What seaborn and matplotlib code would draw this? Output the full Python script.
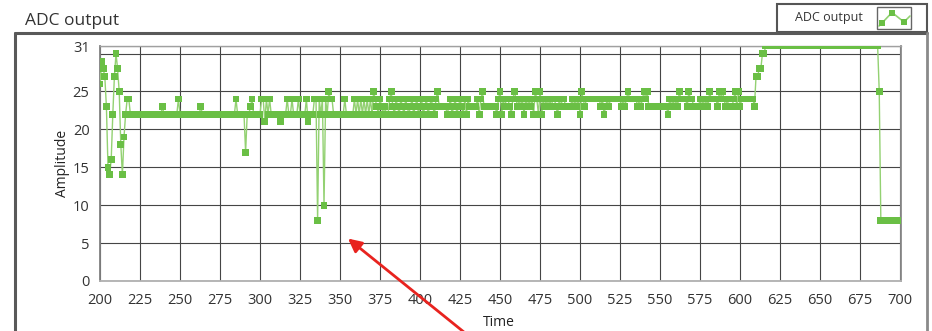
import numpy as np
import pandas as pd
import matplotlib
matplotlib.use("Agg")
import matplotlib.pyplot as plt
import seaborn as sns
from matplotlib.lines import Line2D
from matplotlib.patches import Rectangle

# ---------------- data ----------------
amp_200 = [26, 29, 28, 27, 23, 15, 14, 16, 22, 27,
           30, 28, 25, 18, 14, 19, 22, 24, 24, 22,
           22, 22, 22, 22, 22, 22, 22, 22, 22, 22,
           22, 22, 22, 22, 22, 22, 22, 22, 22, 23,
           22, 22, 22, 22, 22, 22, 22, 22, 22, 24]
amp_250 = [22, 22, 22, 22, 22, 22, 22, 22, 22, 22,
           22, 22, 22, 23, 22, 22, 22, 22, 22, 22,
           22, 22, 22, 22, 22, 22, 22, 22, 22, 22,
           22, 22, 22, 22, 22, 24, 22, 22, 22, 22,
           22, 17, 22, 22, 23, 24, 22, 22, 22, 22]
amp_300 = [22, 24, 24, 21, 24, 22, 24, 22, 22, 22,
           22, 22, 22, 21, 22, 22, 22, 24, 22, 22,
           24, 22, 22, 22, 24, 22, 22, 22, 22, 24,
           21, 22, 22, 22, 24, 24, 8, 24, 22, 24,
           10, 24, 22, 25, 24, 24, 22, 22, 22, 22]
amp_350 = [22, 22, 22, 24, 22, 22, 22, 22, 22, 24,
           22, 24, 22, 24, 22, 24, 22, 24, 22, 24,
           22, 25, 24, 23, 22, 24, 23, 22, 23, 22,
           22, 24, 25, 23, 22, 24, 23, 22, 24, 23,
           22, 24, 23, 22, 23, 24, 22, 23, 24, 22]
amp_400 = [23, 24, 22, 23, 24, 22, 23, 24, 23, 22,
           24, 25, 23, 23, 23, 23, 23, 22, 23, 24,
           22, 23, 24, 22, 23, 24, 23, 22, 24, 22,
           24, 23, 23, 23, 23, 23, 24, 22, 24, 25,
           23, 23, 23, 23, 23, 23, 23, 23, 22, 24]
amp_450 = [25, 22, 24, 23, 24, 24, 23, 22, 24, 25,
           24, 23, 24, 23, 24, 22, 24, 23, 24, 23,
           24, 22, 25, 24, 22, 25, 22, 24, 23, 24,
           23, 24, 23, 24, 24, 23, 22, 24, 23, 24,
           24, 23, 23, 23, 23, 24, 23, 24, 23, 24]
amp_500 = [22, 25, 24, 23, 24, 24, 24, 24, 24, 24,
           24, 24, 24, 23, 24, 22, 23, 24, 23, 24,
           24, 24, 24, 24, 24, 24, 23, 24, 23, 24,
           25, 24, 24, 24, 24, 24, 23, 24, 23, 24,
           25, 24, 25, 23, 23, 23, 23, 23, 23, 23]
amp_550 = [23, 23, 23, 23, 23, 22, 24, 23, 24, 23,
           24, 23, 25, 24, 24, 24, 24, 23, 25, 24,
           24, 23, 23, 23, 23, 24, 23, 24, 23, 24,
           23, 25, 24, 24, 24, 24, 23, 25, 24, 25,
           24, 23, 24, 23, 23, 23, 24, 25, 23, 25]
amp_600 = [23, 24, 24, 24, 24, 24, 24, 24, 24, 23,
           27, 27, 28, 28, 30, 30, 31, 31, 31, 31,
           31, 31, 31, 31, 31, 31, 31, 31, 31, 31,
           31, 31, 31, 31, 31, 31, 31, 31, 31, 31,
           31, 31, 31, 31, 31, 31, 31, 31, 31, 31]
amp_650 = [31, 31, 31, 31, 31, 31, 31, 31, 31, 31,
           31, 31, 31, 31, 31, 31, 31, 31, 31, 31,
           31, 31, 31, 31, 31, 31, 31, 31, 31, 31,
           31, 31, 31, 31, 31, 31, 31, 25, 8, 8,
           8, 8, 8, 8, 8, 8, 8, 8, 8, 8]
amp_700 = [8]

time_start = 200
x_ticks = [200, 225, 250, 275, 300, 325, 350, 375, 400, 425, 450,
           475, 500, 525, 550, 575, 600, 625, 650, 675, 700]
y_ticks = [0, 5, 10, 15, 20, 25, 30, 31]
y_tick_labels = ["0", "5", "10", "15", "20", "25", "", "31"]
title_text = "ADC output"
legend_text = "ADC output"
x_label = "Time"
y_label = "Amplitude"

amplitude = (amp_200 + amp_250 + amp_300 + amp_350 + amp_400 +
             amp_450 + amp_500 + amp_550 + amp_600 + amp_650 + amp_700)
time = np.arange(time_start, time_start + len(amplitude))
df = pd.DataFrame({"Time": time, "Amplitude": amplitude})

# ---------------- style ----------------
sns.set_style("white")
plt.rcParams["font.family"] = ["Open Sans", "DejaVu Sans"]

W, H = 932, 331
fig = plt.figure(figsize=(W / 100, H / 100), dpi=100)
fig.patch.set_facecolor("white")


def fx(px):
    return px / W


def fy(py):
    return 1 - py / H


marker_color = "#6abf45"
line_color = "#93d172"
text_color = "#333333"

ax = fig.add_axes([fx(100), fy(281), fx(901) - fx(100), fy(46) - fy(281)])
ax.set_facecolor("white")

sns.lineplot(data=df, x="Time", y="Amplitude", ax=ax, color=line_color,
             lw=1.0, estimator=None, sort=False, zorder=3)
sns.scatterplot(data=df, x="Time", y="Amplitude", ax=ax, marker="s", s=24,
                color=marker_color, edgecolor="none", linewidth=0, zorder=4)

ax.set_xlim(200, 700.6)
ax.set_ylim(0, 31)
ax.set_xticks(x_ticks)
ax.set_xticklabels([str(v) for v in x_ticks])
ax.set_yticks(y_ticks)
ax.set_yticklabels(y_tick_labels)
ax.grid(True, color="#454545", lw=0.8, zorder=1)
ax.set_axisbelow(True)

for side, col, lw in [("left", "#808080", 1.3), ("bottom", "#b0b0b0", 1.3),
                      ("top", "#a0a0a0", 1.0), ("right", "#8a8a8a", 1.3)]:
    ax.spines[side].set_color(col)
    ax.spines[side].set_linewidth(lw)
    ax.spines[side].set_visible(True)

ax.tick_params(axis="both", direction="out", length=4.5, width=1.2,
               color="#333333", labelsize=10.5, labelcolor=text_color)
ax.tick_params(axis="y", pad=3)
ax.tick_params(axis="x", pad=4)

ax.set_xlabel(x_label, fontsize=10, color="#222222")
ax.set_ylabel(y_label, fontsize=10, color="#222222")
ax.xaxis.set_label_coords((499 - 100) / 801, (281 - 322) / 235)
ax.xaxis.label.set_va("center")
ax.yaxis.set_label_coords((62 - 100) / 801, (281 - 163) / 235)
ax.yaxis.label.set_va("center")

# red arrow annotation
ax.annotate("", xy=(355, 5.6), xycoords="data",
            xytext=(475, -10), textcoords="figure pixels",
            arrowprops=dict(arrowstyle="-|>", color="#e8231f", lw=2.0,
                            mutation_scale=20, shrinkA=0, shrinkB=0),
            annotation_clip=False, zorder=6)

# title
fig.text(fx(25), fy(25), title_text, fontsize=12.5, color=text_color,
         va="baseline", ha="left")

# outer frame
frame_col = "#595959"
fig.add_artist(Line2D([fx(15), fx(15)], [fy(33), fy(335)], color=frame_col,
                      lw=2.2, transform=fig.transFigure))
fig.add_artist(Line2D([fx(15), fx(927)], [fy(33), fy(33)], color=frame_col,
                      lw=2.2, transform=fig.transFigure))
fig.add_artist(Line2D([fx(927), fx(927)], [fy(33), fy(335)], color="#8a8a8a",
                      lw=2.0, transform=fig.transFigure))

# legend box
fig.add_artist(Rectangle((fx(777), fy(32)), fx(927) - fx(777), (32 - 4) / H,
                         transform=fig.transFigure, facecolor="white",
                         edgecolor="#555555", lw=1.5))
fig.text(fx(829), fy(18), legend_text, fontsize=9, color=text_color,
         ha="center", va="center")
fig.add_artist(Rectangle((fx(877), fy(29)), fx(911) - fx(877), (29 - 7) / H,
                         transform=fig.transFigure, facecolor="white",
                         edgecolor="#666666", lw=1.0))
icon_x = [fx(879), fx(882), fx(892), fx(904), fx(910)]
icon_y = [fy(26), fy(23), fy(12.5), fy(22), fy(16)]
fig.add_artist(Line2D(icon_x, icon_y, color=line_color, lw=1.2,
                      transform=fig.transFigure))
fig.add_artist(Line2D(icon_x[1:4], icon_y[1:4], color=marker_color, lw=0,
                      marker="s", markersize=4.5, markeredgewidth=0,
                      transform=fig.transFigure))

fig.savefig("out.png", dpi=100, facecolor="white")
